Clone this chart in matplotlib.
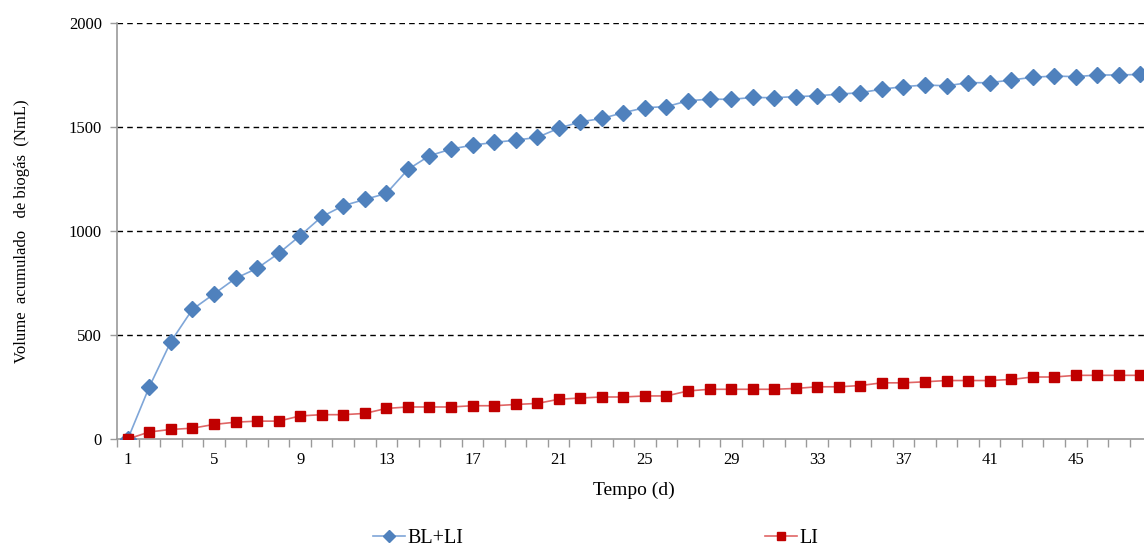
import matplotlib.pyplot as plt
from matplotlib.ticker import FixedLocator

plt.rcParams['font.family'] = ['Liberation Serif', 'DejaVu Serif']

days = list(range(1, 49))

bl_li = [0, 251, 468, 623, 697, 772, 820, 892, 977, 1068,
         1121, 1151, 1180, 1295, 1361, 1393, 1412, 1425, 1436, 1449,
         1493, 1524, 1540, 1568, 1592, 1597, 1625, 1633, 1632, 1641,
         1640, 1645, 1649, 1657, 1664, 1681, 1693, 1701, 1697, 1712,
         1712, 1725, 1738, 1744, 1741, 1749, 1749, 1752]

li = [0, 34, 46, 52, 70, 81, 86, 86, 111, 117,
      117, 123, 147, 154, 154, 154, 160, 160, 166, 171,
      191, 197, 202, 202, 207, 207, 231, 239, 239, 239,
      239, 243, 251, 251, 257, 270, 270, 275, 281, 281,
      281, 286, 298, 298, 306, 306, 306, 306]

xticks = list(range(1, 46, 4))
yticks = [0, 500, 1000, 1500, 2000]

fig = plt.figure(figsize=(11.44, 5.47), dpi=100)
ax = fig.add_axes([0.1023, 0.1974, 0.904, 0.761])

ax.plot(days, bl_li, color='#7FA6D8', lw=1.2, marker='D', ms=8,
        mfc='#4F81BD', mec='#4F81BD', label='BL+LI', zorder=3)
ax.plot(days, li, color='#E06666', lw=1.2, marker='s', ms=7.5,
        mfc='#C00000', mec='#C00000', label='LI', zorder=3)

ax.set_xlim(0.5, 48.5)
ax.set_ylim(0, 2000)

for y in yticks[1:]:
    ax.axhline(y, color='black', lw=1, ls=(0, (4, 3)), zorder=1)

for s in ['top', 'right']:
    ax.spines[s].set_visible(False)
for s in ['left', 'bottom']:
    ax.spines[s].set_color('#9a9a9a')
    ax.spines[s].set_linewidth(1.2)

ax.set_xticks(xticks)
ax.xaxis.set_minor_locator(FixedLocator([d + 0.5 for d in range(0, 49)]))
ax.tick_params(axis='x', which='major', length=0, pad=9, labelsize=12)
ax.tick_params(axis='x', which='minor', length=6, color='#9a9a9a', width=1)
ax.set_yticks(yticks)
ax.tick_params(axis='y', length=5, color='#9a9a9a', width=1, pad=6, labelsize=12)

ax.set_xlabel('Tempo (d)', fontsize=14, labelpad=10)
ax.set_ylabel('Volume  acumulado   de biogás  (NmL)', fontsize=12, labelpad=28)

fig.legend(loc='center', bbox_to_anchor=(0.5205, 0.016), ncol=2, frameon=False,
           fontsize=14.5, columnspacing=15, handlelength=1.6, handletextpad=0.1,
           markerscale=0.75)

fig.savefig('out.png', dpi=100)
